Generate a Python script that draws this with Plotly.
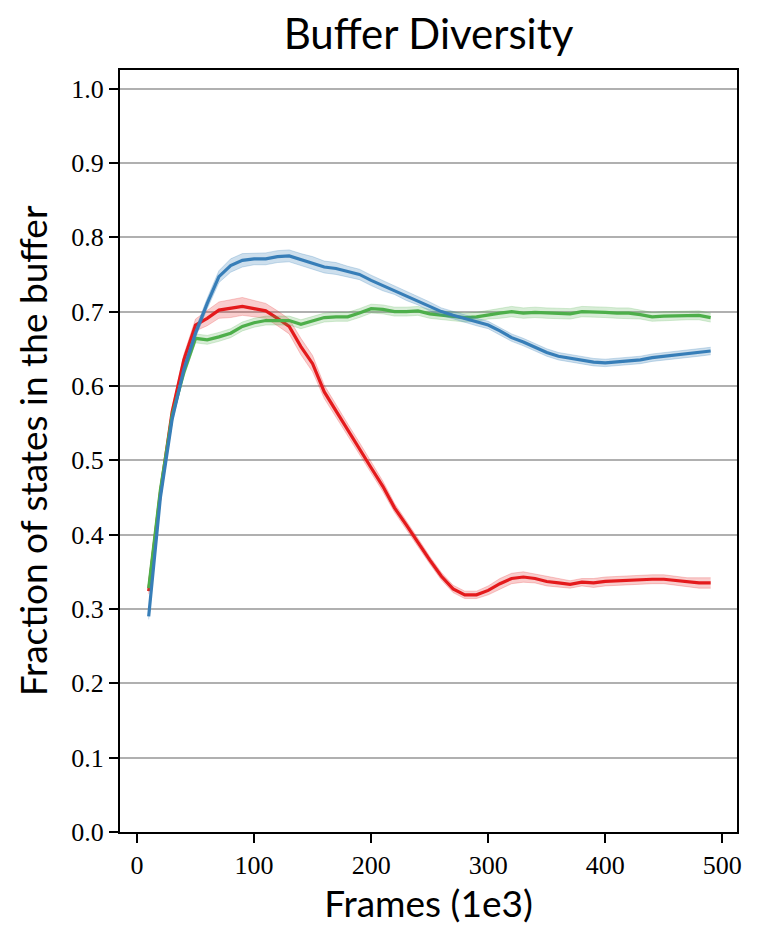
import plotly.graph_objects as go

frames = list(range(10, 500, 10))

red_mean = [0.324, 0.456, 0.565, 0.635, 0.682, 0.691, 0.702, 0.704, 0.707, 0.704,
            0.701, 0.691, 0.680, 0.653, 0.630, 0.592, 0.566, 0.541, 0.516, 0.490,
            0.465, 0.436, 0.413, 0.389, 0.366, 0.344, 0.327, 0.319, 0.319, 0.325,
            0.334, 0.341, 0.343, 0.341, 0.337, 0.335, 0.333, 0.336, 0.335, 0.337,
            0.338, 0.339, 0.339, 0.340, 0.340, 0.338, 0.336, 0.335, 0.335]
red_err = [0.004, 0.005, 0.006, 0.007, 0.008, 0.010, 0.011, 0.012, 0.012, 0.011,
           0.010, 0.010, 0.010, 0.011, 0.011, 0.009, 0.008, 0.008, 0.008, 0.008,
           0.007, 0.006, 0.006, 0.006, 0.005, 0.005, 0.005, 0.005, 0.005, 0.006,
           0.007, 0.007, 0.007, 0.006, 0.006, 0.005, 0.005, 0.005, 0.006, 0.006,
           0.006, 0.006, 0.006, 0.006, 0.006, 0.006, 0.006, 0.007, 0.007]

green_mean = [0.328, 0.460, 0.560, 0.618, 0.664, 0.662, 0.666, 0.671, 0.680, 0.685,
              0.688, 0.688, 0.688, 0.683, 0.688, 0.692, 0.693, 0.693, 0.698, 0.704,
              0.703, 0.700, 0.700, 0.701, 0.697, 0.695, 0.694, 0.692, 0.693, 0.696,
              0.698, 0.700, 0.698, 0.699, 0.698, 0.697, 0.697, 0.700, 0.700, 0.699,
              0.698, 0.698, 0.696, 0.693, 0.694, 0.694, 0.695, 0.695, 0.692]
green_err = [0.004, 0.005, 0.005, 0.006, 0.006, 0.006, 0.006, 0.006, 0.006, 0.006,
             0.006, 0.006, 0.006, 0.006, 0.006, 0.006, 0.006, 0.006, 0.006, 0.006,
             0.006, 0.006, 0.006, 0.006, 0.006, 0.006, 0.006, 0.006, 0.006, 0.006,
             0.007, 0.007, 0.007, 0.007, 0.007, 0.007, 0.007, 0.007, 0.007, 0.007,
             0.007, 0.007, 0.006, 0.006, 0.006, 0.006, 0.006, 0.006, 0.006]

blue_mean = [0.290, 0.450, 0.555, 0.622, 0.671, 0.711, 0.747, 0.762, 0.769, 0.771,
             0.771, 0.774, 0.775, 0.770, 0.766, 0.760, 0.758, 0.754, 0.750, 0.742,
             0.735, 0.729, 0.721, 0.715, 0.707, 0.700, 0.695, 0.691, 0.686, 0.682,
             0.674, 0.665, 0.659, 0.652, 0.645, 0.640, 0.637, 0.634, 0.632, 0.631,
             0.632, 0.633, 0.635, 0.638, 0.640, 0.642, 0.644, 0.645, 0.647]
blue_err = [0.004, 0.005, 0.005, 0.006, 0.006, 0.007, 0.008, 0.009, 0.009, 0.008,
            0.008, 0.008, 0.008, 0.008, 0.008, 0.008, 0.008, 0.007, 0.007, 0.007,
            0.007, 0.006, 0.006, 0.006, 0.006, 0.005, 0.005, 0.005, 0.005, 0.005,
            0.005, 0.005, 0.005, 0.005, 0.005, 0.005, 0.005, 0.005, 0.005, 0.005,
            0.005, 0.005, 0.005, 0.005, 0.005, 0.005, 0.005, 0.005, 0.005]

x_ticks = [0, 100, 200, 300, 400, 500]
y_ticks = [0.0, 0.1, 0.2, 0.3, 0.4, 0.5, 0.6, 0.7, 0.8, 0.9, 1.0]

series = [
    ("red", red_mean, red_err, "#e41a1c", "rgba(228,26,28,0.22)"),
    ("green", green_mean, green_err, "#4daf4a", "rgba(77,175,74,0.22)"),
    ("blue", blue_mean, blue_err, "#377eb8", "rgba(55,126,184,0.25)"),
]

fig = go.Figure()
for name, mean, err, color, fillc in series:
    upper = [m + e for m, e in zip(mean, err)]
    lower = [m - e for m, e in zip(mean, err)]
    fig.add_trace(go.Scatter(x=frames, y=upper, mode="lines", line=dict(width=1, color=fillc),
                             showlegend=False, hoverinfo="skip"))
    fig.add_trace(go.Scatter(x=frames, y=lower, mode="lines", line=dict(width=1, color=fillc),
                             fill="tonexty", fillcolor=fillc, showlegend=False, hoverinfo="skip"))
    fig.add_trace(go.Scatter(x=frames, y=mean, mode="lines", name=name,
                             line=dict(width=3.2, color=color), showlegend=False))

serif = "Liberation Serif, DejaVu Serif, serif"
sans = "Lato, Open Sans, DejaVu Sans, sans-serif"

L, R, T, B = 120, 23, 70, 116

fig.update_layout(
    width=760, height=948,
    margin=dict(l=L, r=R, t=T, b=B),
    paper_bgcolor="white", plot_bgcolor="white",
    title=dict(text="Buffer Diversity", x=(L + (760 - L - R) / 2) / 760, xanchor="center",
               y=1 - 34.6 / 948, yanchor="middle",
               font=dict(family=sans, size=42, color="black")),
    xaxis=dict(range=[-14.5, 512.5], tickvals=x_ticks,
               showgrid=False, zeroline=False, showline=True, linecolor="black",
               linewidth=2, mirror=True, ticks="outside", ticklen=9, tickwidth=2,
               tickcolor="black", tickfont=dict(family=serif, size=26, color="black"),
               title=dict(text="Frames (1e3)", font=dict(family=sans, size=37, color="black"),
                          standoff=12)),
    yaxis=dict(range=[0, 1.025], tickvals=y_ticks,
               tickformat=".1f", showgrid=True, gridcolor="#b0b0b0", gridwidth=2,
               zeroline=False, showline=True, linecolor="black", linewidth=2, mirror=True,
               ticks="outside", ticklen=9, tickwidth=2, tickcolor="black",
               tickfont=dict(family=serif, size=26, color="black"),
               title=dict(text="Fraction of states in the buffer",
                          font=dict(family=sans, size=37, color="black"), standoff=12)),
)

fig.write_html("out.html", config={"displayModeBar": False},
               post_script="document.body.style.margin='0px';")
